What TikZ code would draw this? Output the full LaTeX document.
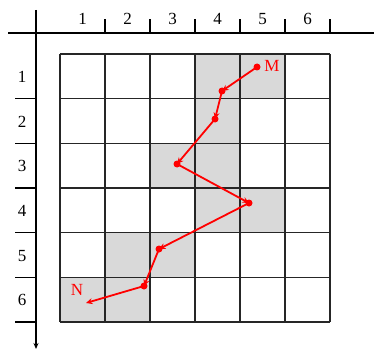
\documentclass[tikz,border=0pt]{standalone}
\usepackage{fontspec}
\setmainfont{Liberation Serif}
\usetikzlibrary{arrows.meta}
\begin{document}
\begin{tikzpicture}[x=1pt,y=-1pt,
  gridline/.style={line width=1.5pt, black!85},
  axisline/.style={line width=1.2pt, black},
  cellshade/.style={fill=black!15},
  lbl/.style={font=\fontsize{17}{17}\selectfont, inner sep=0pt},
  redlbl/.style={font=\fontsize{17}{17}\selectfont, inner sep=0pt, text=red},
  route/.style={draw=red, line width=1.8pt, -{Stealth[length=6.5pt,width=6pt]}},
  reddot/.style={circle, fill=red, inner sep=0pt, minimum size=7pt}]
\useasboundingbox (0,0) rectangle (374,350);
% shaded cells
\foreach \c/\r in {4/1,5/1,4/2,3/3,4/3,4/4,5/4,2/5,3/5,1/6,2/6}
  \fill[cellshade] ({60+45*(\c-1)},{54+44.667*(\r-1)}) rectangle ++(45,44.667);
% grid
\foreach \i in {0,...,6} {
  \draw[gridline] ({60+45*\i},54) -- ({60+45*\i},322);
  \draw[gridline] (60,{54+44.667*\i}) -- (330,{54+44.667*\i});
}
% axes
\draw[axisline] (8,33) -- (374,33);
\draw[axisline, -{Stealth[length=6pt,width=5pt]}] (36,10) -- (36,349);
\foreach \i in {1,...,6} {
  \draw[axisline] ({60+45*\i},33) -- ++(0,-14);
  \node[lbl] (top\i) at ({82.5+45*(\i-1)},19) {\i};
  \draw[axisline] (15,{54+44.667*\i}) -- (36,{54+44.667*\i});
  \node[lbl] (left\i) at (22,{77+44.667*(\i-1)}) {\i};
}
% route points
\node[reddot] (m) at (257,67) {};
\node[reddot] (p2) at (222,91) {};
\node[reddot] (p3) at (215,119) {};
\node[reddot] (p4) at (177,164) {};
\node[reddot] (p5) at (249,203) {};
\node[reddot] (p6) at (159,249) {};
\node[reddot] (p7) at (144,286) {};
\coordinate (n) at (86,303);
\draw[route] (m.center) -- (p2.center);
\draw[route] (p2.center) -- (p3.center);
\draw[route] (p3.center) -- (p4.center);
\draw[route] (p4.center) -- (p5.center);
\draw[route] (p5.center) -- (p6.center);
\draw[route] (p6.center) -- (p7.center);
\draw[route] (p7.center) -- (n);
\node[redlbl] (mlbl) at (272,66) {M};
\node[redlbl] (nlbl) at (77,290) {N};
\end{tikzpicture}
\end{document}
